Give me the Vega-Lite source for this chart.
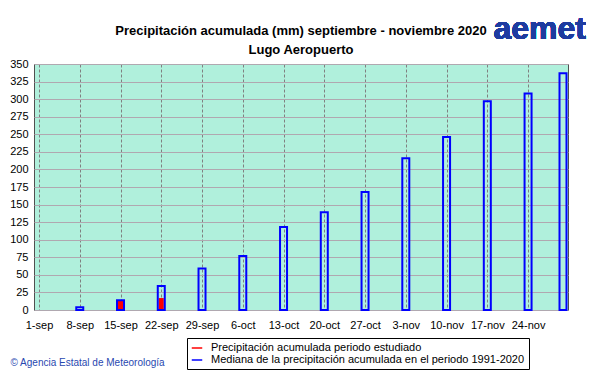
{
  "$schema": "https://vega.github.io/schema/vega-lite/v6.json",
  "width": 534,
  "height": 246,
  "autosize": {"type": "none"},
  "padding": {"left": 34, "top": 64, "right": 33, "bottom": 64},
  "background": "white",
  "title": {
    "text": ["Precipitación acumulada (mm) septiembre  - noviembre 2020", "Lugo Aeropuerto"],
    "font": "Liberation Sans",
    "fontSize": 13,
    "fontWeight": "bold",
    "color": "#000000",
    "lineHeight": 19,
    "anchor": "middle",
    "offset": -44
  },
  "data": {
    "values": [
      {"date": "2020-09-15", "serie": "Precipitación acumulada periodo estudiado", "value": 14},
      {"date": "2020-09-22", "serie": "Precipitación acumulada periodo estudiado", "value": 17},
      {"date": "2020-09-08", "serie": "Mediana de la precipitación acumulada en el periodo 1991-2020", "value": 4},
      {"date": "2020-09-15", "serie": "Mediana de la precipitación acumulada en el periodo 1991-2020", "value": 14},
      {"date": "2020-09-22", "serie": "Mediana de la precipitación acumulada en el periodo 1991-2020", "value": 34},
      {"date": "2020-09-29", "serie": "Mediana de la precipitación acumulada en el periodo 1991-2020", "value": 59},
      {"date": "2020-10-06", "serie": "Mediana de la precipitación acumulada en el periodo 1991-2020", "value": 77},
      {"date": "2020-10-13", "serie": "Mediana de la precipitación acumulada en el periodo 1991-2020", "value": 118},
      {"date": "2020-10-20", "serie": "Mediana de la precipitación acumulada en el periodo 1991-2020", "value": 139},
      {"date": "2020-10-27", "serie": "Mediana de la precipitación acumulada en el periodo 1991-2020", "value": 168},
      {"date": "2020-11-03", "serie": "Mediana de la precipitación acumulada en el periodo 1991-2020", "value": 216},
      {"date": "2020-11-10", "serie": "Mediana de la precipitación acumulada en el periodo 1991-2020", "value": 246},
      {"date": "2020-11-17", "serie": "Mediana de la precipitación acumulada en el periodo 1991-2020", "value": 297},
      {"date": "2020-11-24", "serie": "Mediana de la precipitación acumulada en el periodo 1991-2020", "value": 308},
      {"date": "2020-11-30", "serie": "Mediana de la precipitación acumulada en el periodo 1991-2020", "value": 337}
    ]
  },
  "encoding": {
    "x": {
      "field": "date",
      "type": "temporal",
      "scale": {
        "type": "utc",
        "domain": [
          {"year": 2020, "month": 9, "date": 1, "utc": true},
          {"year": 2020, "month": 11, "date": 30, "utc": true}
        ]
      },
      "axis": {
        "values": [
          {"year": 2020, "month": 9, "date": 1, "utc": true},
          {"year": 2020, "month": 9, "date": 8, "utc": true},
          {"year": 2020, "month": 9, "date": 15, "utc": true},
          {"year": 2020, "month": 9, "date": 22, "utc": true},
          {"year": 2020, "month": 9, "date": 29, "utc": true},
          {"year": 2020, "month": 10, "date": 6, "utc": true},
          {"year": 2020, "month": 10, "date": 13, "utc": true},
          {"year": 2020, "month": 10, "date": 20, "utc": true},
          {"year": 2020, "month": 10, "date": 27, "utc": true},
          {"year": 2020, "month": 11, "date": 3, "utc": true},
          {"year": 2020, "month": 11, "date": 10, "utc": true},
          {"year": 2020, "month": 11, "date": 17, "utc": true},
          {"year": 2020, "month": 11, "date": 24, "utc": true}
        ],
        "labelExpr": "utcdate(datum.value) + '-' + ['ene','feb','mar','abr','may','jun','jul','ago','sep','oct','nov','dic'][utcmonth(datum.value)]",
        "grid": true,
        "gridDash": [3, 2],
        "gridColor": "#808080",
        "gridOpacity": 1,
        "ticks": false,
        "domain": false,
        "labelAngle": 0,
        "labelPadding": 9,
        "labelFlush": false,
        "labelOverlap": false,
        "labelFont": "Liberation Sans",
        "labelFontSize": 11,
        "labelColor": "#000000",
        "title": "© Agencia Estatal de Meteorología",
        "titleAnchor": "start",
        "titleAlign": "left",
        "titleBaseline": "middle",
        "titleX": -24,
        "titleY": 52,
        "titleFont": "Liberation Sans",
        "titleFontSize": 10,
        "titleFontWeight": "normal",
        "titleColor": "#2848b0"
      }
    },
    "y": {
      "field": "value",
      "type": "quantitative",
      "scale": {"domain": [0, 350], "nice": false},
      "axis": {
        "values": [0, 25, 50, 75, 100, 125, 150, 175, 200, 225, 250, 275, 300, 325, 350],
        "grid": true,
        "gridColor": "#b0a8b0",
        "gridOpacity": 1,
        "ticks": false,
        "domain": false,
        "labelPadding": 6,
        "labelFont": "Liberation Sans",
        "labelFontSize": 11,
        "labelColor": "#000000",
        "title": null
      }
    }
  },
  "layer": [
    {
      "transform": [{"filter": "datum.serie == 'Precipitación acumulada periodo estudiado'"}],
      "mark": {"type": "bar", "size": 5, "clip": false},
      "encoding": {
        "color": {
          "field": "serie",
          "type": "nominal",
          "scale": {
            "domain": ["Precipitación acumulada periodo estudiado", "Mediana de la precipitación acumulada en el periodo 1991-2020"],
            "range": ["#ff0000", "#0000ff"]
          },
          "legend": {
            "title": null,
            "orient": "none",
            "legendX": 153,
            "legendY": 274,
            "symbolType": "stroke",
            "symbolStrokeWidth": 1.5,
            "symbolSize": 110,
            "strokeColor": "#000000",
            "fillColor": "#ffffff",
            "padding": 4,
            "rowPadding": 1,
            "labelFont": "Liberation Sans",
            "labelFontSize": 11,
            "labelColor": "#000000",
            "labelLimit": 400,
            "labelOffset": 8,
            "encode": {
              "symbols": {
                "update": {
                  "stroke": {"scale": "color", "field": "value"},
                  "fill": {"value": "transparent"}
                }
              }
            }
          }
        }
      }
    },
    {
      "transform": [{"filter": "datum.serie == 'Mediana de la precipitación acumulada en el periodo 1991-2020'"}],
      "mark": {"type": "bar", "size": 7, "filled": false, "strokeWidth": 2, "clip": false},
      "encoding": {
        "color": {"field": "serie", "type": "nominal"}
      }
    },
    {
      "mark": {"type": "text", "text": "aemet", "font": "Liberation Sans", "fontSize": 32, "fontWeight": "bold", "color": "#1e3ca0", "clip": false, "align": "center", "baseline": "middle"},
      "encoding": {
        "x": {"datum": {"year": 2020, "month": 11, "date": 26, "utc": true}, "type": "temporal"},
        "y": {"datum": 400, "type": "quantitative"}
      }
    }
  ],
  "config": {
    "view": {"fill": "#b0f0dc", "stroke": "#505050", "strokeWidth": 1}
  }
}
